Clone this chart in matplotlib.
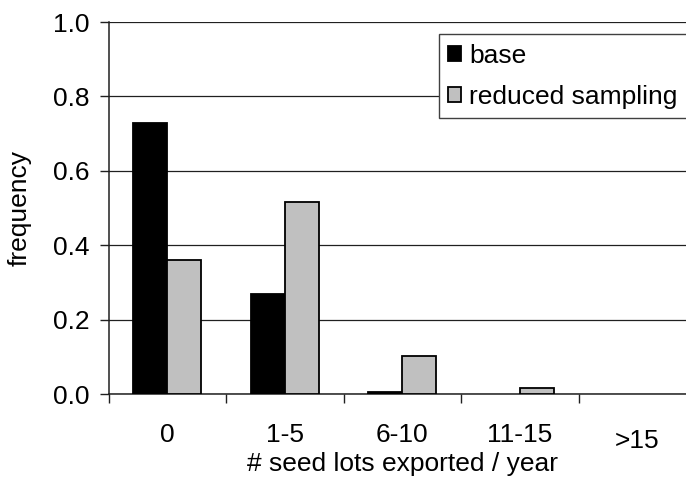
import matplotlib
matplotlib.use("Agg")
import matplotlib.pyplot as plt
import matplotlib.transforms as mtransforms
import numpy as np

# data
categories = ["0", "1-5", "6-10", "11-15", ">15"]
base = [0.728, 0.269, 0.005, 0.0, 0.0]
reduced_sampling = [0.360, 0.516, 0.102, 0.015, 0.0]

plt.rcParams['font.family'] = ['Liberation Sans', 'DejaVu Sans']
fs = 19

fig = plt.figure(figsize=(6.86, 4.79), dpi=100, facecolor="white")
# plot area runs past the right edge of the picture, as in the original
ax = fig.add_axes([108.5 / 686, 85 / 479, 587.5 / 686, 372 / 479])

x = np.arange(len(categories))
w = 0.29
b1 = ax.bar(x - w / 2, base, w, color="black", edgecolor="black", linewidth=1.3,
            label="base", zorder=3)
b2 = ax.bar(x + w / 2, reduced_sampling, w, color="#c0c0c0", edgecolor="black",
            linewidth=1.3, label="reduced sampling", zorder=3)
# empty bins show nothing
for bars in (b1, b2):
    for p in bars:
        if p.get_height() == 0:
            p.set_visible(False)

ax.set_xlim(-0.5, len(categories) - 0.5)
ax.set_ylim(0, 1.0)
ax.set_yticks(np.arange(0, 1.01, 0.2))
ax.set_yticklabels(["%.1f" % v for v in np.arange(0, 1.01, 0.2)], fontsize=fs)

# tick marks at category boundaries, labels at centres
ax.set_xticks(np.arange(-0.5, len(categories) - 0.5, 1.0))
ax.set_xticklabels([])
ax.set_xticks(x, minor=True)
ax.set_xticklabels(categories, minor=True, fontsize=fs)
ax.tick_params(axis="x", which="major", direction="out", length=6.5, width=1.0, color="#202020")
ax.tick_params(axis="x", which="minor", length=0, pad=21)
ax.tick_params(axis="y", direction="out", length=6.5, width=1.0, color="#202020", pad=7)

# Excel put the last label a little lower
lab = ax.get_xticklabels(minor=True)[-1]
lab.set_transform(lab.get_transform() + mtransforms.ScaledTranslation(0, -6 / 100, fig.dpi_scale_trans))

ax.yaxis.grid(True, color="#202020", linewidth=0.9, zorder=0)
ax.set_axisbelow(True)
for s in ["top", "right"]:
    ax.spines[s].set_visible(False)
for s in ["left", "bottom"]:
    ax.spines[s].set_color("#202020")
    ax.spines[s].set_linewidth(1.1)

ax.set_xlabel("# seed lots exported / year", fontsize=fs)
ax.xaxis.set_label_coords(0.5, -0.155)
ax.set_ylabel("frequency", fontsize=fs)
ax.yaxis.set_label_coords(-0.13, 0.5)

leg = ax.legend(loc="upper left", bbox_to_anchor=(439 / 686, 1 - 34.3 / 479),
                bbox_transform=fig.transFigure, fontsize=fs, frameon=True,
                fancybox=False, borderpad=0.35, borderaxespad=0,
                handlelength=0.5, handleheight=0.5, handletextpad=0.3,
                labelspacing=0.65)
leg.get_frame().set_edgecolor("#404040")
leg.get_frame().set_linewidth(1.0)
leg.get_frame().set_alpha(1)

fig.savefig("out.png", dpi=100, facecolor="white")
